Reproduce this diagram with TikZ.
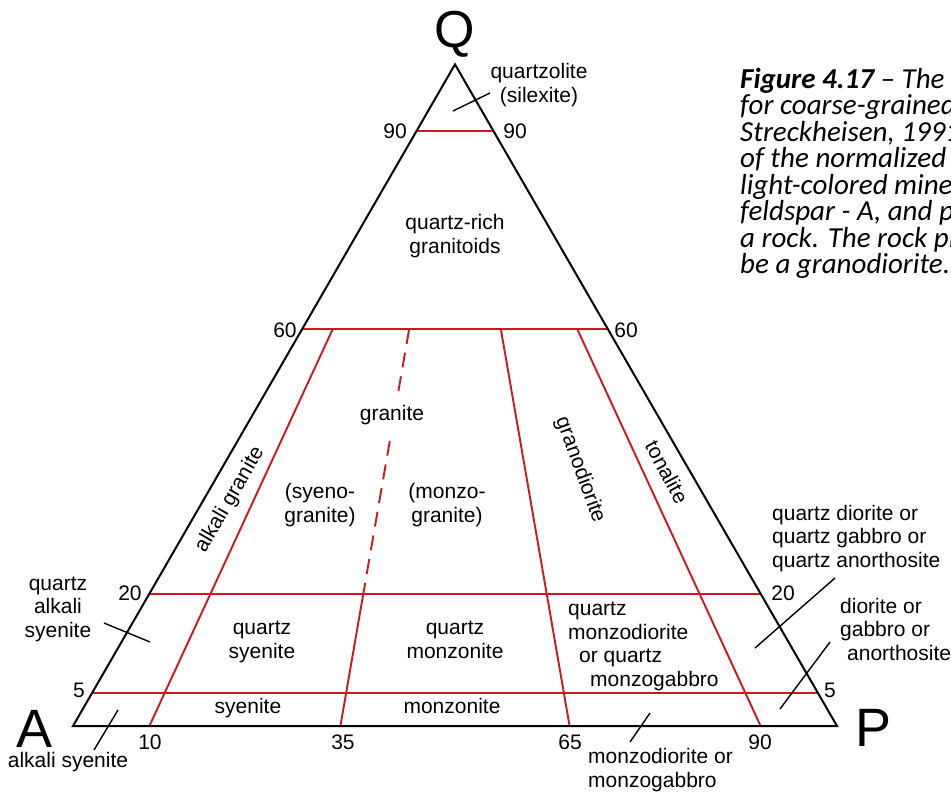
\documentclass[tikz,border=0pt]{standalone}
\usepackage{fontspec}
\setmainfont{Liberation Sans}
\newfontfamily\capfont{Carlito}
\usetikzlibrary{calc}
\definecolor{qapred}{RGB}{205,25,30}
\begin{document}
\begin{tikzpicture}[x=1pt,y=-1pt,
  lbl/.style={font=\fontsize{21}{23.5}\selectfont, inner sep=0pt},
  bigletter/.style={font=\fontsize{54}{54}\selectfont, inner sep=0pt, anchor=base},
  triedge/.style={draw=black, line width=2pt, line join=miter},
  redline/.style={draw=qapred, line width=1.9pt},
  dashred/.style={redline, dash pattern=on 15pt off 9pt},
  ptr/.style={draw=black, line width=1.4pt},
  captext/.style={font=\capfont\itshape\fontsize{29}{26.5}\selectfont, anchor=base west, inner sep=0pt}]

\useasboundingbox (0,0) rectangle (951,793);
\fill[white] (0,0) rectangle (951,793);

\coordinate (A) at (73,726);
\coordinate (P) at (837,726);
\coordinate (Q) at (455,64.4);

\foreach \q/\n in {0.9/90,0.6/60,0.2/20,0.05/5} {
  \coordinate (L\n) at ($(A)!\q!(Q)$);
  \coordinate (R\n) at ($(P)!\q!(Q)$);
}
\foreach \p/\n in {0.1/10,0.35/35,0.65/65,0.9/90} {
  \coordinate (B\n) at ($(A)!\p!(P)$);
  \coordinate (T\n) at ($(B\n)!0.6!(Q)$);
  \coordinate (M\n) at ($(B\n)!0.2!(Q)$);
}
\coordinate (D1) at ($(B35)!0.4977!(Q)$);
\coordinate (D2) at ($(B35)!0.431!(Q)$);

% red field boundaries
\draw[redline] (L90) -- (R90);
\draw[redline] (L60) -- (R60);
\draw[redline] (L20) -- (R20);
\draw[redline] (L5) -- (R5);
\draw[redline] (T10) -- (B10);
\draw[redline] (T65) -- (B65);
\draw[redline] (T90) -- (B90);
\draw[dashred] (T35) -- (D1);
\draw[dashred] (D2) -- (M35);
\draw[redline] (M35) -- (B35);

% triangle
\draw[triedge] (A) -- (P) -- (Q) -- cycle;

% apices
\node[bigletter, font=\fontsize{52}{52}\selectfont] (nQ) at (455,47) {Q};
\node[bigletter] (nA) at (35,747) {A};
\node[bigletter] (nP) at (874,746) {P};

% scale numbers
\node[lbl] (n90l) at (395,131) {90};
\node[lbl] (n90r) at (515,131) {90};
\node[lbl] (n60l) at (285,330) {60};
\node[lbl] (n60r) at (626,330) {60};
\node[lbl] (n20l) at (130,593) {20};
\node[lbl] (n20r) at (783,593) {20};
\node[lbl] (n5l) at (79,690) {5};
\node[lbl] (n5r) at (830,690) {5};
\node[lbl] (n10) at (150,742) {10};
\node[lbl] (n35) at (343,742) {35};
\node[lbl] (n65) at (570,742) {65};
\node[lbl] (n90b) at (760,742) {90};

% field labels (base anchor = baseline of the last line)
\node[lbl, align=center, anchor=base] (qz) at (539,102) {quartzolite\\(silexite)};
\node[lbl, align=center, anchor=base] (qrg) at (455,253) {quartz-rich\\granitoids};
\node[lbl, anchor=base] (gra) at (392,420) {granite};
\node[lbl, align=center, anchor=base] (syg) at (320,522) {(syeno-\\granite)};
\node[lbl, align=center, anchor=base] (mzg) at (447,522) {(monzo-\\granite)};
\node[lbl, rotate=60] (akg) at (230,500) {alkali granite};
\node[lbl, rotate=-70] (gd) at (580,470) {granodiorite};
\node[lbl, rotate=-62] (ton) at (667,472) {tonalite};
\node[lbl, align=left, anchor=base west] (qd) at (772,567) {quartz diorite or\\quartz gabbro or\\quartz anorthosite};
\node[lbl, align=left, anchor=base west] (dio) at (840,660) {diorite or\\gabbro or\\\hspace{7pt}anorthosite};
\node[lbl, align=center, anchor=base] (qas) at (58,637) {quartz\\alkali\\syenite};
\node[lbl, align=center, anchor=base] (qsy) at (262,658) {quartz\\syenite};
\node[lbl, align=center, anchor=base] (qmz) at (455,658) {quartz\\monzonite};
\node[lbl, align=left, anchor=base west] (qmd) at (568,686) {quartz\\monzodiorite\\\hspace{11pt}or quartz\\\hspace{22pt}monzogabbro};
\node[lbl, anchor=base] (sy) at (248,713) {syenite};
\node[lbl, anchor=base] (mz) at (452,713) {monzonite};
\node[lbl, anchor=base] (aks) at (68,767) {alkali syenite};
\node[lbl, align=left, anchor=base west] (mzd) at (588,787) {monzodiorite or\\monzogabbro};

% pointer lines
\coordinate (p1a) at (453,111); \coordinate (p1b) at (490,93);
\coordinate (p2a) at (104,623); \coordinate (p2b) at (150,642);
\coordinate (p3a) at (94,750);  \coordinate (p3b) at (118,710);
\coordinate (p4a) at (630,742); \coordinate (p4b) at (650,713);
\coordinate (p5a) at (835,578); \coordinate (p5b) at (755,648);
\coordinate (p6a) at (830,642); \coordinate (p6b) at (780,709);
\draw[ptr] (p1a) -- (p1b);
\draw[ptr] (p2a) -- (p2b);
\draw[ptr] (p3a) -- (p3b);
\draw[ptr] (p4a) -- (p4b);
\draw[ptr] (p5a) -- (p5b);
\draw[ptr] (p6a) -- (p6b);

% caption (cut at the right edge)
\begin{scope}
\clip (0,0) rectangle (951,793);
\node[captext] (c1) at (740,88) {\bfseries Figure 4.17\mdseries{} – The};
\node[captext] (c2) at (740,114.5) {for coarse-grained};
\node[captext] (c3) at (740,141) {Streckheisen, 1991};
\node[captext] (c4) at (740,167.5) {of the normalized};
\node[captext] (c5) at (740,194) {light-colored minerals};
\node[captext] (c6) at (740,220.5) {feldspar - A, and plagioclase};
\node[captext] (c7) at (740,247) {a rock. The rock plotted};
\node[captext] (c8) at (740,273.5) {be a granodiorite.};
\end{scope}
\end{tikzpicture}
\end{document}
